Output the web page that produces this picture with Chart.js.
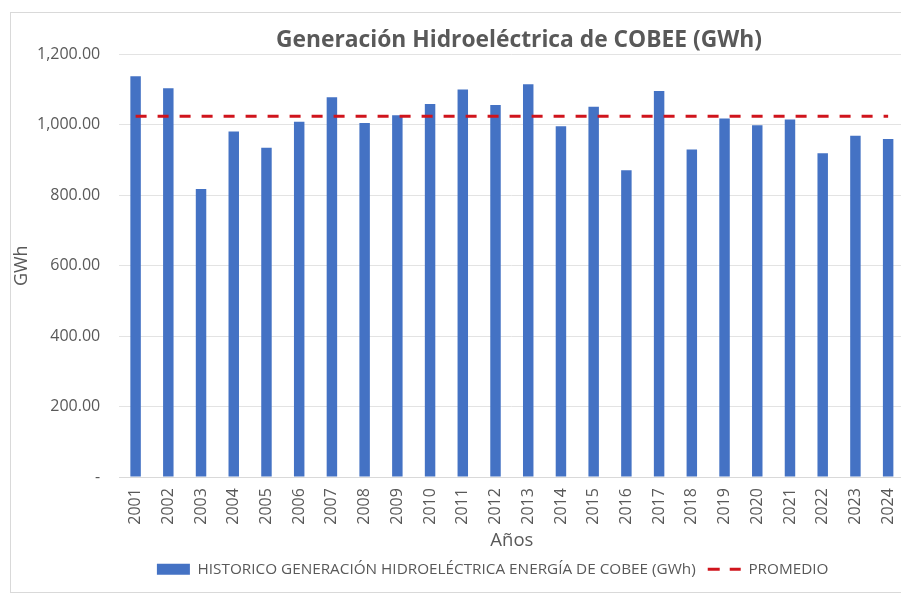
<!DOCTYPE html>
<html lang="es">
<head>
    <script src="https://cdn.jsdelivr.net/npm/chart.js"></script>
    <meta charset="UTF-8">
    <title>Generación Hidroeléctrica de COBEE</title>
    <style>
        html, body { margin: 0; padding: 0; background: #fff; overflow: hidden; }
        #frame { position: absolute; left: 10px; top: 12px; width: 1000px; height: 579px; border: 1px solid #d9d9d9; }
        #wrap { position: absolute; left: 0; top: 0; width: 1038px; height: 596px; }
    </style>
</head>
<body>
    <div id="frame"></div>
    <div id="wrap">
        <canvas id="myChart"></canvas>
    </div>
    <script>
        const years = ['2001','2002','2003','2004','2005','2006','2007','2008','2009','2010','2011','2012',
                       '2013','2014','2015','2016','2017','2018','2019','2020','2021','2022','2023','2024'];
        const generation = [1138, 1104, 818, 981, 935, 1009, 1078, 1005, 1027, 1059, 1100, 1056,
                            1115, 996, 1051, 871, 1096, 930, 1018, 999, 1015, 919, 969, 960];
        const promedio = 1024;
        const yTicks = [0, 200, 400, 600, 800, 1000, 1200];

        const grey = '#595959';
        const font = "'Open Sans', sans-serif";

        const ctx = document.getElementById('myChart');
        new Chart(ctx, {
            data: {
                labels: years,
                datasets: [{
                    type: 'bar',
                    label: 'HISTORICO GENERACIÓN HIDROELÉCTRICA ENERGÍA DE COBEE (GWh)',
                    data: generation,
                    backgroundColor: '#4472c4',
                    borderWidth: 0,
                    categoryPercentage: 1,
                    barPercentage: 0.32,
                    order: 1
                }, {
                    type: 'line',
                    label: 'PROMEDIO',
                    data: years.map(() => promedio),
                    borderColor: '#d0141c',
                    backgroundColor: '#d0141c',
                    borderWidth: 3,
                    borderDash: [11, 11],
                    pointRadius: 0,
                    order: 0
                }]
            },
            options: {
                responsive: true,
                maintainAspectRatio: false,
                animation: false,
                layout: { padding: { left: 0, right: 0, top: 20, bottom: 9 } },
                scales: {
                    x: {
                        grid: { display: false, drawTicks: false },
                        border: { color: '#d9d9d9' },
                        ticks: { color: grey, font: { family: font, size: 16 }, minRotation: 90, maxRotation: 90, padding: 11 },
                        title: { display: true, text: 'Años', color: grey, font: { family: font, size: 18.5, lineHeight: 1 }, padding: { top: -4.5, bottom: 0 } }
                    },
                    y: {
                        min: 0,
                        max: 1200,
                        afterBuildTicks: (axis) => { axis.ticks = yTicks.map(v => ({ value: v })); },
                        grid: { color: '#e3e3e3', drawTicks: false },
                        border: { display: false },
                        ticks: {
                            color: grey,
                            font: { family: font, size: 16 },
                            padding: 19,
                            callback: (v) => v === 0 ? '-' : Number(v).toLocaleString('en-US', { minimumFractionDigits: 2, maximumFractionDigits: 2 })
                        },
                        title: { display: true, text: 'GWh', color: grey, font: { family: font, size: 18, lineHeight: 1 }, padding: { top: 13, bottom: -13 } }
                    },
                    // empty space on the right, the plot runs past the picture edge
                    spacer: {
                        type: 'linear',
                        position: 'right',
                        grid: { display: false },
                        border: { display: false },
                        ticks: { display: false },
                        afterFit: (s) => { s.width = 133.5; }
                    }
                },
                plugins: {
                    title: {
                        display: true,
                        text: 'Generación Hidroeléctrica de COBEE (GWh)',
                        color: grey,
                        font: { family: font, size: 22.8, weight: 'bold' },
                        padding: { top: 7, bottom: 0 }
                    },
                    legend: {
                        position: 'bottom',
                        labels: {
                            color: grey,
                            font: { family: font, size: 15.3 },
                            usePointStyle: true,
                            pointStyleWidth: 33,
                            boxHeight: 11,
                            padding: 12,
                            generateLabels: (chart) => {
                                const items = Chart.defaults.plugins.legend.labels.generateLabels(chart);
                                items.sort((a, b) => a.datasetIndex - b.datasetIndex);
                                items.forEach(it => {
                                    if (it.datasetIndex === 1) {
                                        it.pointStyle = 'line';
                                        it.lineDash = [12, 10];
                                        it.lineWidth = 3;
                                    } else {
                                        it.pointStyle = 'rect';
                                    }
                                });
                                // blank entry to pull the legend a bit to the left
                                items.push({ text: '', fillStyle: 'rgba(0,0,0,0)', strokeStyle: 'rgba(0,0,0,0)', lineWidth: 0, pointStyle: 'rect', hidden: false, datasetIndex: -1 });
                                return items;
                            }
                        }
                    },
                    tooltip: { enabled: false }
                }
            }
        });
    </script>
</body>
</html>
